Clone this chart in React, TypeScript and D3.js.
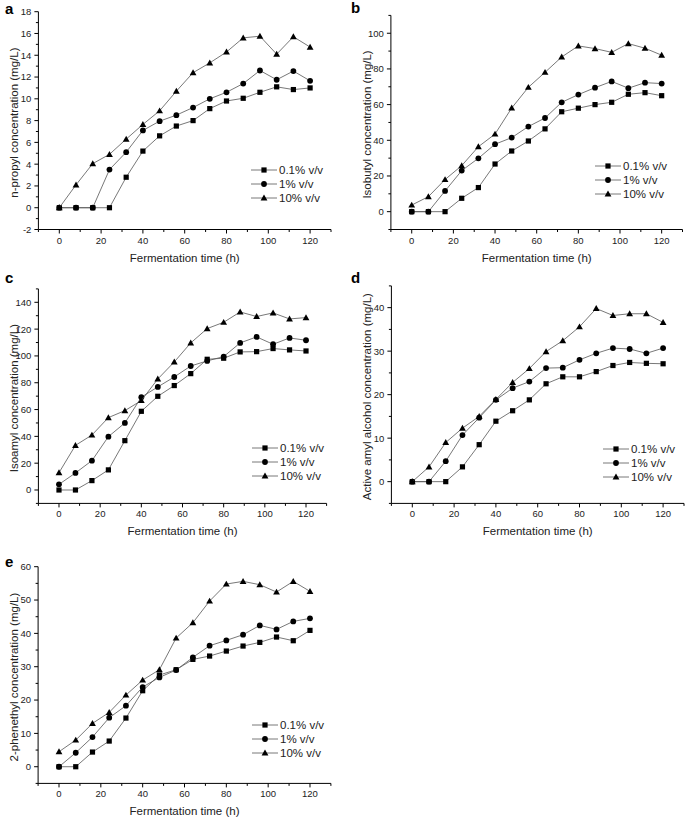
import React from "react";
import * as d3 from "d3";

const times = [0, 8, 16, 24, 32, 40, 48, 56, 64, 72, 80, 88, 96, 104, 112, 120];
const seriesNames = ["0.1% v/v", "1% v/v", "10% v/v"];
const markerTypes = ["square", "circle", "triangle"];

const propyl01 = [0, 0, 0, 0, 2.8, 5.2, 6.6, 7.5, 8.0, 9.1, 9.8, 10.05, 10.6, 11.1, 10.85, 11.0];
const propyl1 = [0, 0, 0, 3.5, 5.1, 7.1, 7.95, 8.5, 9.2, 10.0, 10.6, 11.4, 12.6, 11.75, 12.55, 11.65];
const propyl10 = [0, 2.1, 4.05, 4.9, 6.3, 7.65, 8.9, 10.7, 12.4, 13.3, 14.3, 15.6, 15.75, 14.1, 15.7, 14.75];

const isobutyl01 = [0, 0, 0, 7.5, 13.5, 26.7, 34, 39.6, 46.4, 56, 58, 60, 61.3, 65.8, 66.7, 65];
const isobutyl1 = [0, 0, 11.6, 23, 29.9, 37.8, 41.5, 47.7, 52.5, 61.3, 65.6, 69.5, 73, 69.2, 72.3, 71.8];
const isobutyl10 = [3.7, 8.4, 18, 25.8, 36.4, 43.5, 58.1, 69.7, 78.1, 86.7, 92.9, 91.4, 89.3, 94.2, 91.6, 87.7];

const isoamyl01 = [0, 0, 7, 15, 36.8, 58.7, 69.9, 77.9, 86.8, 97.5, 98.3, 103, 103.2, 105.5, 104.5, 103.7];
const isoamyl1 = [4.2, 12.7, 21.9, 39.8, 50, 69.2, 76.9, 84.3, 92.5, 96.3, 99.5, 109.7, 114.2, 108.7, 113.4, 111.7];
const isoamyl10 = [12.9, 33.3, 41, 54, 59.2, 66.7, 82.8, 95.5, 109.7, 120.4, 125.1, 132.8, 129.4, 132.1, 127.6, 128.6];

const active01 = [0, 0, 0, 3.4, 8.5, 13.9, 16.3, 18.8, 22.5, 24.1, 24.1, 25.3, 26.7, 27.4, 27.2, 27.1];
const active1 = [0, 0, 4.7, 10.7, 14.7, 18.8, 21.5, 23, 26.1, 26.2, 28, 29.5, 30.7, 30.5, 29.5, 30.7];
const active10 = [0, 3.4, 9, 12.3, 15, 18.9, 22.8, 26, 29.9, 32.4, 35.6, 39.8, 38.2, 38.6, 38.6, 36.6];

const phen01 = [0, 0, 4.4, 7.7, 14.6, 22.8, 27.5, 29.1, 32.2, 33.2, 34.7, 36.2, 37.3, 38.9, 37.8, 40.9];
const phen1 = [0, 4.2, 8.9, 14.7, 18.3, 23.9, 26.8, 29, 32.8, 36.3, 37.9, 39.6, 42.4, 41.2, 43.6, 44.5];
const phen10 = [4.5, 8, 13, 16.3, 21.5, 26, 29.1, 38.6, 43.2, 49.7, 54.8, 55.6, 54.6, 52.4, 55.6, 52.6];

const panels = [
  { letter: "a", ylabel: "n-propyl concentration (mg/L)", series: [propyl01, propyl1, propyl10],
    xdom: [-10, 130], ydom: [-2, 18], ymaj: 2,
    box: { l: 38.4, r: 331, t: 11.7, b: 229.5 }, leg: { x: 251, y: 170 }, let: { x: 5, y: 14 } },
  { letter: "b", ylabel: "Isobutyl concentration (mg/L)", series: [isobutyl01, isobutyl1, isobutyl10],
    xdom: [-10, 130], ydom: [-10, 110], ymaj: 20,
    box: { l: 390.9, r: 682.5, t: 15.4, b: 229.5 }, leg: { x: 595, y: 166 }, let: { x: 351, y: 13 } },
  { letter: "c", ylabel: "Isoamyl concentration (mg/L)", series: [isoamyl01, isoamyl1, isoamyl10],
    xdom: [-10, 130], ydom: [-10, 150], ymaj: 20,
    box: { l: 38.4, r: 326.6, t: 288.9, b: 503.4 }, leg: { x: 252, y: 448 }, let: { x: 5, y: 283 } },
  { letter: "d", ylabel: "Active amyl alcohol concentration (mg/L)", series: [active01, active1, active10],
    xdom: [-10, 130], ydom: [-5, 45], ymaj: 10,
    box: { l: 391.4, r: 684, t: 285.9, b: 503.4 }, leg: { x: 603, y: 449 }, let: { x: 351, y: 283 } },
  { letter: "e", ylabel: "2-phenethyl concentration (mg/L)", series: [phen01, phen1, phen10],
    xdom: [-10, 130], ydom: [-5, 60], ymaj: 10,
    box: { l: 38.1, r: 330.9, t: 566.7, b: 783.4 }, leg: { x: 252, y: 725 }, let: { x: 5, y: 567 } },
];

const FONT = "Liberation Sans, Arial, sans-serif";
const LINE = "#555";

function Marker({ type, x, y }: { type: string; x: number; y: number }) {
  if (type === "square") return <rect x={x - 2.6} y={y - 2.6} width={5.2} height={5.2} fill="#000" />;
  if (type === "circle") return <circle cx={x} cy={y} r={2.9} fill="#000" />;
  const s = 3.4;
  return <path d={`M${x},${y - s}L${x + s},${y + s * 0.75}L${x - s},${y + s * 0.75}Z`} fill="#000" />;
}

function Panel({ p }: { p: any }) {
  const { box } = p;
  const x = d3.scaleLinear().domain(p.xdom).range([box.l, box.r]);
  const y = d3.scaleLinear().domain(p.ydom).range([box.b, box.t]);
  const xMajor = d3.range(0, 121, 20);
  const xMinor = d3.range(-10, 131, 10).filter((v) => !xMajor.includes(v));
  const half = p.ymaj / 2;
  const yAll = d3.range(p.ydom[0], p.ydom[1] + 1e-9, half);
  const firstMajor = Math.ceil(p.ydom[0] / p.ymaj) * p.ymaj;
  const yMajor = d3.range(firstMajor, p.ydom[1] + 1e-9, p.ymaj);
  const yMinor = yAll.filter((v) => !yMajor.some((m) => Math.abs(m - v) < 1e-9));
  const line = d3.line<number>().x((_, i) => x(times[i])).y((d) => y(d));
  const cx = (box.l + box.r) / 2;
  const cy = (box.t + box.b) / 2;
  return (
    <g>
      <text x={p.let.x} y={p.let.y} fontFamily={FONT} fontWeight="bold" fontSize={15}>{p.letter}</text>
      <line x1={box.l} x2={box.r} y1={box.b} y2={box.b} stroke="#000" strokeWidth={1} />
      <line x1={box.l} x2={box.l} y1={box.t} y2={box.b} stroke="#000" strokeWidth={1} />
      {xMajor.map((v) => (
        <g key={"xm" + v}>
          <line x1={x(v)} x2={x(v)} y1={box.b} y2={box.b + 4} stroke="#000" />
          <text x={x(v)} y={box.b + 14} textAnchor="middle" fontFamily={FONT} fontSize={9.5} fill="#222">{v}</text>
        </g>
      ))}
      {xMinor.map((v) => (
        <line key={"xn" + v} x1={x(v)} x2={x(v)} y1={box.b} y2={box.b + 2.5} stroke="#000" />
      ))}
      {yMajor.map((v) => (
        <g key={"ym" + v}>
          <line x1={box.l - 4} x2={box.l} y1={y(v)} y2={y(v)} stroke="#000" />
          <text x={box.l - 7} y={y(v) + 3.4} textAnchor="end" fontFamily={FONT} fontSize={9.5} fill="#222">{v}</text>
        </g>
      ))}
      {yMinor.map((v) => (
        <line key={"yn" + v} x1={box.l - 2.5} x2={box.l} y1={y(v)} y2={y(v)} stroke="#000" />
      ))}
      <text x={cx} y={box.b + 32} textAnchor="middle" fontFamily={FONT} fontSize={11.5} fill="#222">Fermentation time (h)</text>
      <text transform={`translate(${box.l - 20},${cy + 2}) rotate(-90)`} textAnchor="middle" fontFamily={FONT} fontSize={11.5} fill="#222">{p.ylabel}</text>
      {p.series.map((s: number[], si: number) => (
        <g key={"s" + si}>
          <path d={line(s) || ""} fill="none" stroke={LINE} strokeWidth={0.8} />
          {s.map((d, i) => (
            <Marker key={i} type={markerTypes[si]} x={x(times[i])} y={y(d)} />
          ))}
        </g>
      ))}
      {seriesNames.map((n, si) => {
        const ly = p.leg.y + si * 14;
        return (
          <g key={"l" + si}>
            <line x1={p.leg.x} x2={p.leg.x + 26} y1={ly} y2={ly} stroke={LINE} strokeWidth={0.8} />
            <Marker type={markerTypes[si]} x={p.leg.x + 13} y={ly} />
            <text x={p.leg.x + 28} y={ly + 4} fontFamily={FONT} fontSize={11.5} fill="#222">{n}</text>
          </g>
        );
      })}
    </g>
  );
}

export default function App() {
  return (
    <svg width={685} height={819} style={{ position: "absolute", left: 0, top: 0, background: "#fff" }}>
      <rect width={685} height={819} fill="#fff" />
      {panels.map((p) => (
        <Panel key={p.letter} p={p} />
      ))}
    </svg>
  );
}
